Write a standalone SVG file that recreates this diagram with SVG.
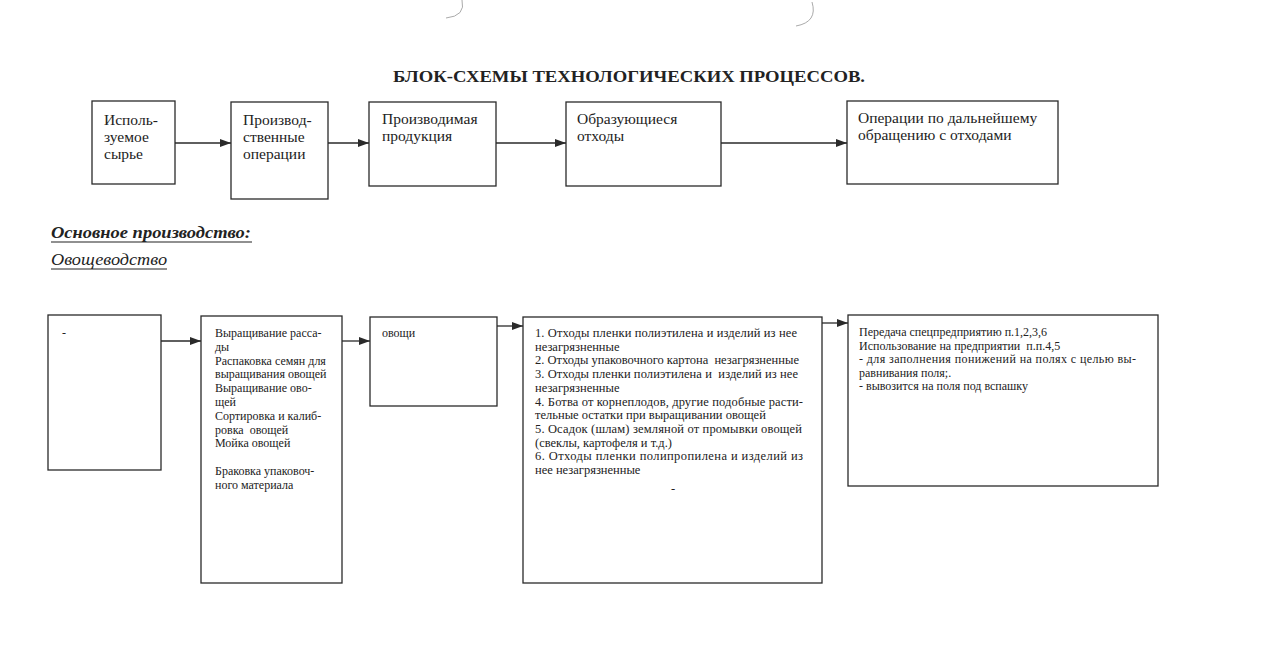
<svg xmlns="http://www.w3.org/2000/svg" width="1266" height="658" viewBox="0 0 1266 658">
<style>
.box{fill:#fff;stroke:#2a2a2a;stroke-width:1.3}
.t{font-family:'Liberation Serif','Times New Roman',serif;fill:#222}
.tl{font-size:15.5px}
.ts{font-size:12px}
.td{font-size:12.5px}
.con line{stroke:#2a2a2a;stroke-width:1.3}
.hole{fill:none;stroke:#aaa;stroke-width:1}
</style>
<defs>
<marker id="ah" viewBox="0 0 11 8" refX="11" refY="4" markerWidth="11" markerHeight="8" markerUnits="userSpaceOnUse" orient="auto">
<path d="M0,0 L11,4 L0,8 z" fill="#2a2a2a"/>
</marker>
</defs>
<rect width="1266" height="658" fill="#fff"/>
<path class="hole" d="M462,0 Q466,16 446,18"/>
<path class="hole" d="M812,2 Q818,22 796,26"/>

<text class="t" x="393" y="82" font-size="16.5" font-weight="bold" textLength="472" lengthAdjust="spacingAndGlyphs">БЛОК-СХЕМЫ ТЕХНОЛОГИЧЕСКИХ ПРОЦЕССОВ.</text>

<g id="n1"><rect class="box" x="92" y="101" width="83" height="83"/>
<text class="t tl"><tspan x="104" y="125">Исполь-</tspan><tspan x="104" y="142">зуемое</tspan><tspan x="104" y="159">сырье</tspan></text></g>
<g id="n2"><rect class="box" x="231" y="102" width="97" height="97"/>
<text class="t tl"><tspan x="243" y="125">Производ-</tspan><tspan x="243" y="142">ственные</tspan><tspan x="243" y="159">операции</tspan></text></g>
<g id="n3"><rect class="box" x="369" y="102" width="127" height="84"/>
<text class="t tl"><tspan x="382" y="124">Производимая</tspan><tspan x="382" y="141">продукция</tspan></text></g>
<g id="n4"><rect class="box" x="566" y="102" width="155" height="84"/>
<text class="t tl"><tspan x="577" y="124">Образующиеся</tspan><tspan x="577" y="141">отходы</tspan></text></g>
<g id="n5"><rect class="box" x="847" y="101" width="211" height="83"/>
<text class="t tl"><tspan x="858" y="123">Операции по дальнейшему</tspan><tspan x="858" y="140">обращению с отходами</tspan></text></g>

<g id="section">
<text class="t" x="51" y="238" font-size="16" font-weight="bold" font-style="italic" textLength="200" lengthAdjust="spacingAndGlyphs">Основное производство:</text>
<line x1="51" y1="242" x2="252" y2="242" stroke="#222" stroke-width="1.2"/>
<text class="t" x="51" y="265" font-size="16" font-style="italic" textLength="116" lengthAdjust="spacingAndGlyphs">Овощеводство</text>
<line x1="51" y1="269" x2="167" y2="269" stroke="#222" stroke-width="1"/>
</g>

<g id="b1"><rect class="box" x="48" y="315" width="113" height="155"/>
<text class="t ts" x="62" y="337">-</text></g>
<g id="b2"><rect class="box" x="201" y="316" width="141" height="267"/>
<text class="t ts">
<tspan x="215" y="337">Выращивание расса-</tspan>
<tspan x="215" y="350.8">ды</tspan>
<tspan x="215" y="364.6">Распаковка семян для</tspan>
<tspan x="215" y="378.4">выращивания овощей</tspan>
<tspan x="215" y="392.2">Выращивание ово-</tspan>
<tspan x="215" y="406">щей</tspan>
<tspan x="215" y="419.8">Сортировка и калиб-</tspan>
<tspan x="215" y="433.6">ровка&#160; овощей</tspan>
<tspan x="215" y="447.4">Мойка овощей</tspan>
<tspan x="215" y="475">Браковка упаковоч-</tspan>
<tspan x="215" y="488.8">ного материала</tspan>
</text></g>
<g id="b3"><rect class="box" x="370" y="317" width="127" height="89"/>
<text class="t ts" x="382" y="337">овощи</text></g>
<g id="b4"><rect class="box" x="523" y="317" width="299" height="266"/>
<text class="t td" x="535" y="337" textLength="262" lengthAdjust="spacing">1. Отходы пленки полиэтилена и изделий из нее</text>
<text class="t td" x="535" y="350.7">незагрязненные</text>
<text class="t td" x="535" y="364.4">2. Отходы упаковочного картона&#160; незагрязненные</text>
<text class="t td" x="535" y="378.1" textLength="263" lengthAdjust="spacing">3. Отходы пленки полиэтилена и&#160; изделий из нее</text>
<text class="t td" x="535" y="391.8">незагрязненные</text>
<text class="t td" x="535" y="405.5" textLength="268" lengthAdjust="spacing">4. Ботва от корнеплодов, другие подобные расти-</text>
<text class="t td" x="535" y="419.2">тельные остатки при выращивании овощей</text>
<text class="t td" x="535" y="432.9" textLength="267" lengthAdjust="spacing">5. Осадок (шлам) земляной от промывки овощей</text>
<text class="t td" x="535" y="446.6">(свеклы, картофеля и т.д.)</text>
<text class="t td" x="535" y="460.3" textLength="268" lengthAdjust="spacing">6. Отходы пленки полипропилена и изделий из</text>
<text class="t td" x="535" y="474">нее незагрязненные</text>
<text class="t td" x="671" y="493">-</text></g>
<g id="b5"><rect class="box" x="848" y="315" width="310" height="171"/>
<text class="t ts" x="859" y="336">Передача спецпредприятию п.1,2,3,6</text>
<text class="t ts" x="859" y="349.5">Использование на предприятии&#160; п.п.4,5</text>
<text class="t ts" x="859" y="363" textLength="277" lengthAdjust="spacing">- для заполнения понижений на полях с целью вы-</text>
<text class="t ts" x="859" y="376.5">равнивания поля;.</text>
<text class="t ts" x="859" y="390">- вывозится на поля под вспашку</text>
</g>

<g id="connectors" class="con">
<line x1="175" y1="143" x2="231" y2="143" marker-end="url(#ah)"/>
<line x1="328" y1="143" x2="369" y2="143" marker-end="url(#ah)"/>
<line x1="496" y1="143" x2="566" y2="143" marker-end="url(#ah)"/>
<line x1="721" y1="143" x2="847" y2="143" marker-end="url(#ah)"/>
<line x1="161" y1="341" x2="201" y2="341" marker-end="url(#ah)"/>
<line x1="342" y1="341" x2="370" y2="341" marker-end="url(#ah)"/>
<line x1="497" y1="326" x2="523" y2="326" marker-end="url(#ah)"/>
<line x1="822" y1="323" x2="848" y2="323" marker-end="url(#ah)"/>
</g>
</svg>
